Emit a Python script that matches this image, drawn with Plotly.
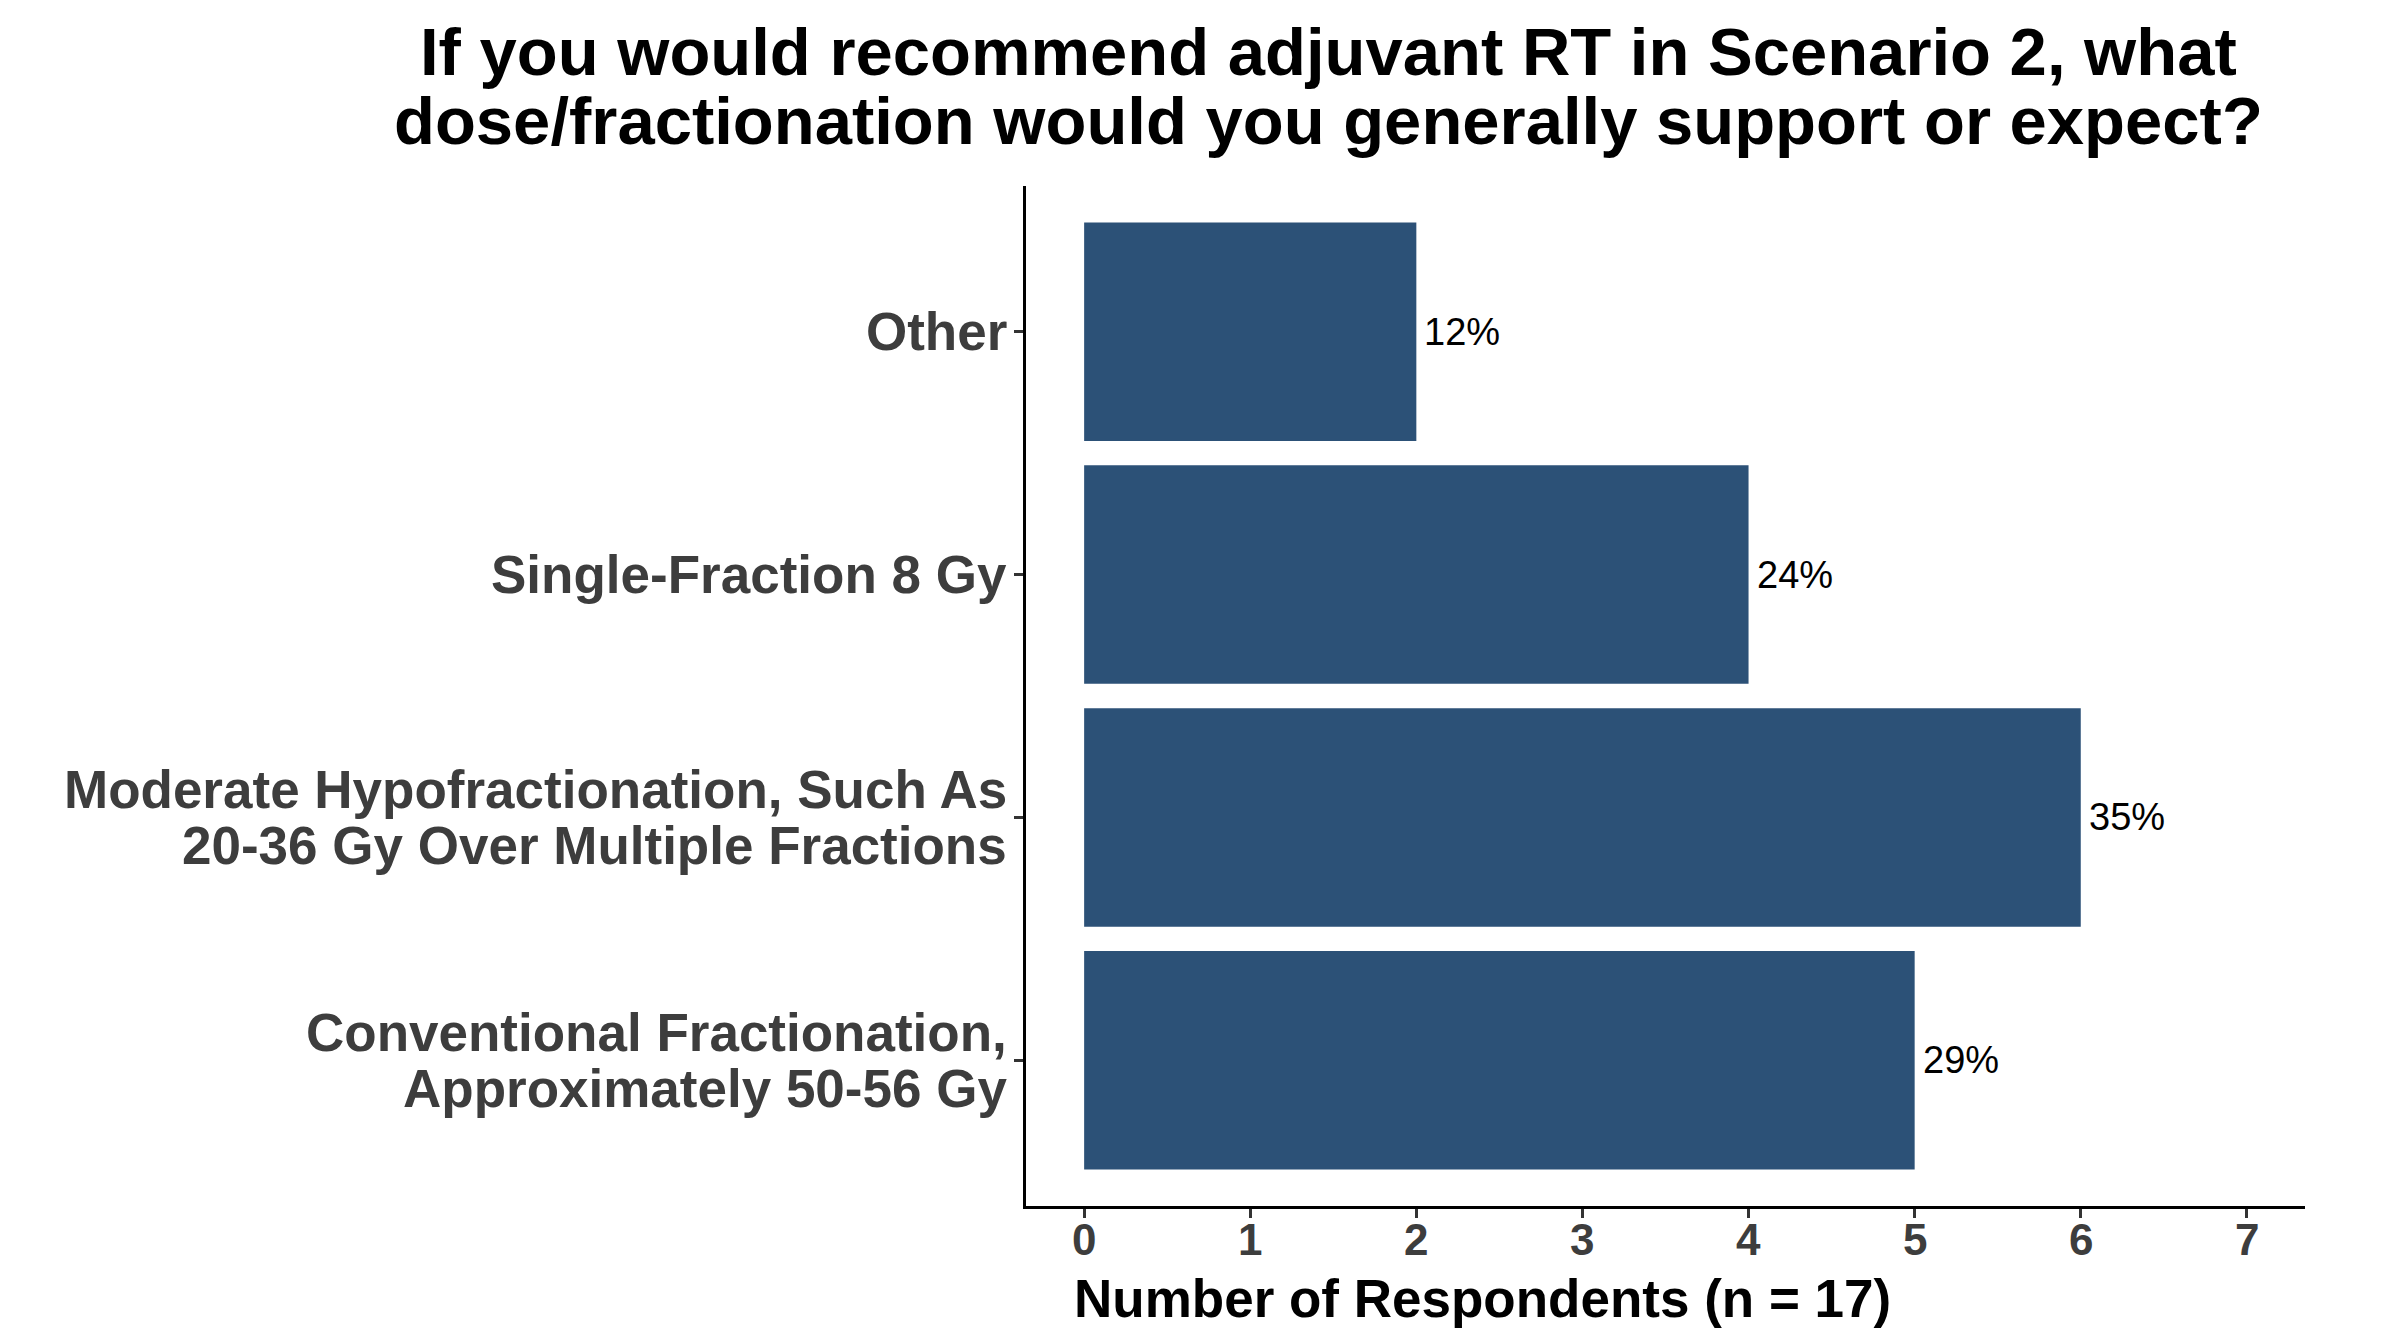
import plotly.graph_objects as go

# ---- data ----
categories = [
    "Conventional Fractionation,\nApproximately 50-56 Gy",
    "Moderate Hypofractionation, Such As\n20-36 Gy Over Multiple Fractions",
    "Single-Fraction 8 Gy",
    "Other",
]
counts = [5, 6, 4, 2]
n_total = 17
x_ticks = [0, 1, 2, 3, 4, 5, 6, 7]
title_lines = [
    "If you would recommend adjuvant RT in Scenario 2, what",
    "dose/fractionation would you generally support or expect?",
]
x_title = "Number of Respondents (n = 17)"

pct_labels = [f"{round(100 * c / n_total)}%" for c in counts]

# ---- layout geometry (page pixels; page body has an 8px margin) ----
OFF = 8
W, H = 2400 - OFF, 1344 - OFF
P_L, P_T, P_R, P_B = 1026, 186, 2305, 1206   # plot area in page pixels
L, T = P_L - OFF, P_T - OFF
R, B = W - (P_R - OFF), H - (P_B - OFF)
PW, PH = P_R - P_L, P_B - P_T
FONT = "Liberation Sans, Arial, sans-serif"
BAR = "#2C5177"
AXIS_TEXT = "#3D3D3D"


def px_x(p):
    return (p - P_L) / PW


def px_y(p):
    return (P_B - p) / PH


fig = go.Figure()
fig.add_trace(go.Bar(
    x=counts,
    y=categories,
    orientation="h",
    width=0.9,
    marker=dict(color=BAR, line=dict(width=0)),
    hoverinfo="skip",
))

annotations = []
# percentage labels
for c, cat, lab in zip(counts, categories, pct_labels):
    annotations.append(dict(
        x=c, y=cat, xref="x", yref="y", text=lab, showarrow=False,
        xanchor="left", yanchor="middle", xshift=6,
        font=dict(family=FONT, size=38, color="#000000"),
    ))
# y tick labels (custom line spacing)
LINE_GAP = 56
for cat in categories:
    lines = cat.split("\n")
    n = len(lines)
    for i, ln in enumerate(lines):
        annotations.append(dict(
            x=0, y=cat, xref="paper", yref="y", text=f"<b>{ln}</b>",
            showarrow=False, xanchor="right", yanchor="middle",
            xshift=-17, yshift=((n - 1) / 2 - i) * LINE_GAP,
            font=dict(family=FONT, size=53, color=AXIS_TEXT),
        ))
# x tick labels
for v in x_ticks:
    annotations.append(dict(
        x=v, y=px_y(1239), xref="x", yref="paper", text=f"<b>{v}</b>",
        showarrow=False, xanchor="center", yanchor="middle",
        font=dict(family=FONT, size=44, color=AXIS_TEXT),
    ))
# title lines
for ln, cy in zip(title_lines, [51, 120]):
    annotations.append(dict(
        x=px_x(1328), y=px_y(cy), xref="paper", yref="paper",
        text=f"<b>{ln}</b>", showarrow=False,
        xanchor="center", yanchor="middle",
        font=dict(family=FONT, size=67, color="#000000"),
    ))
# x axis title
annotations.append(dict(
    x=px_x(1482), y=px_y(1298), xref="paper", yref="paper",
    text=f"<b>{x_title}</b>", showarrow=False,
    xanchor="center", yanchor="middle",
    font=dict(family=FONT, size=53, color="#000000"),
))

fig.update_layout(
    width=W, height=H,
    margin=dict(l=L, r=R, t=T, b=B, autoexpand=False),
    paper_bgcolor="white", plot_bgcolor="white",
    showlegend=False,
    annotations=annotations,
    xaxis=dict(
        range=[-0.35, 7.35], tickmode="array", tickvals=x_ticks,
        showgrid=False, zeroline=False,
        showline=True, linecolor="#000000", linewidth=3,
        ticks="outside", ticklen=9, tickwidth=2.5, tickcolor="#333333",
        showticklabels=False, fixedrange=True,
    ),
    yaxis=dict(
        type="category", categoryorder="array", categoryarray=categories,
        range=[-0.6, 3.6],
        showgrid=False, zeroline=False,
        showline=True, linecolor="#000000", linewidth=3,
        ticks="outside", ticklen=9, tickwidth=2.5, tickcolor="#333333",
        showticklabels=False, fixedrange=True,
    ),
)

fig.write_html("out.html")
